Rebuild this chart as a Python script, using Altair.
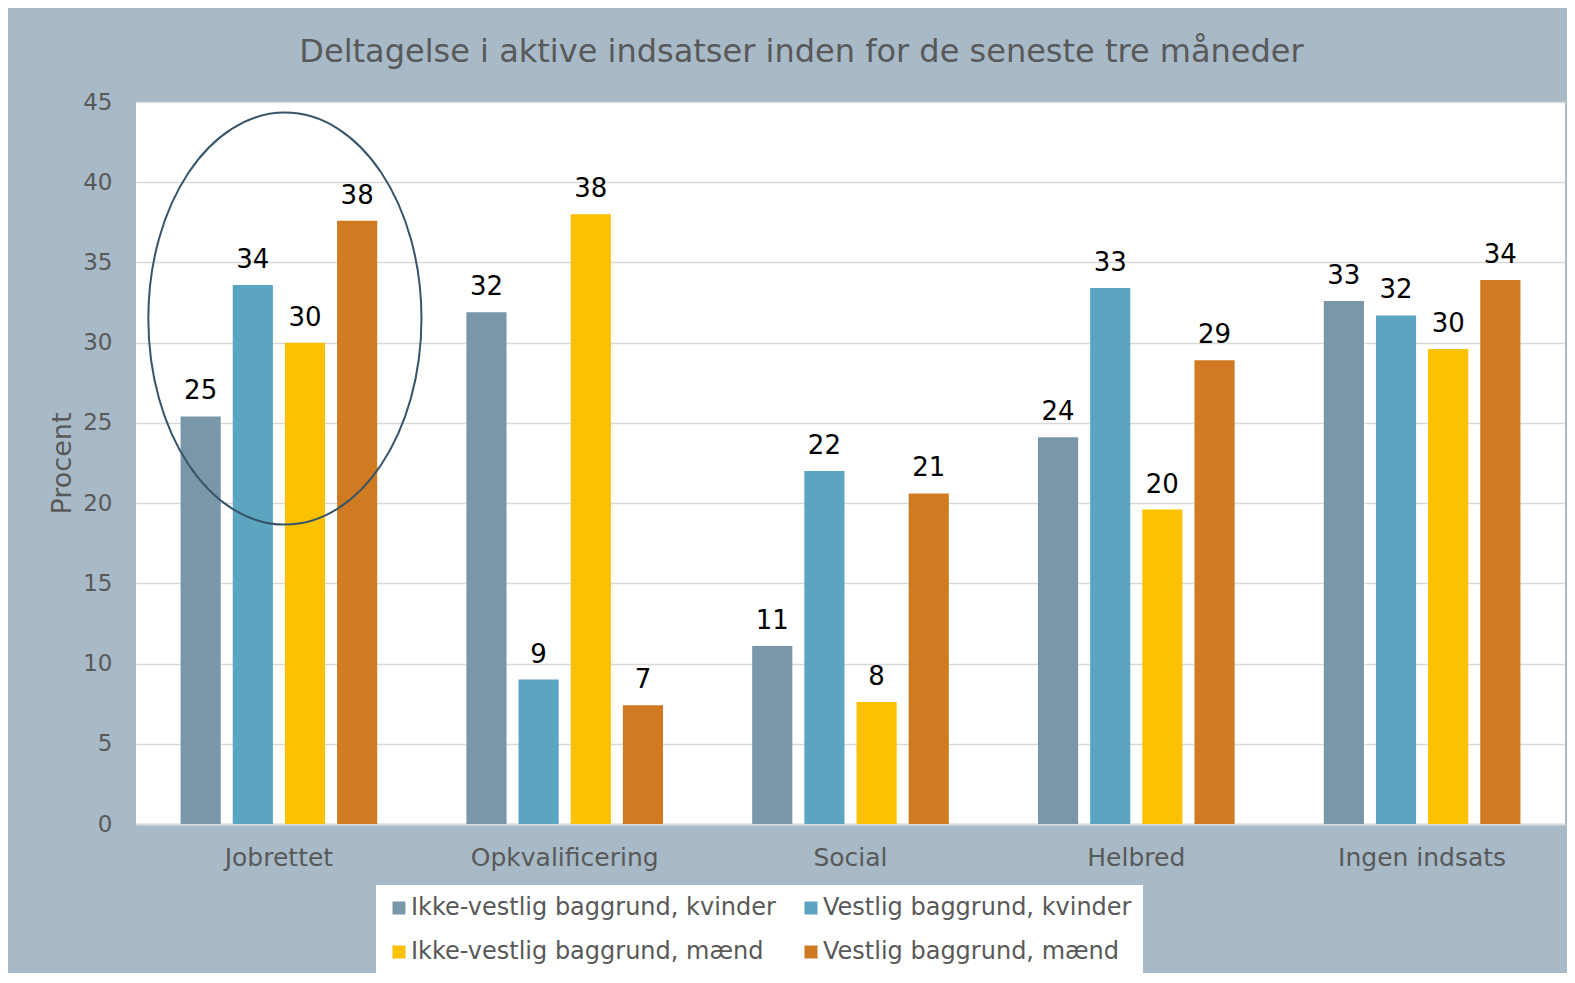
import altair as alt
import pandas as pd

categories = ["Jobrettet", "Opkvalificering", "Social", "Helbred", "Ingen indsats"]
series = [
    "Ikke-vestlig baggrund, kvinder",
    "Vestlig baggrund, kvinder",
    "Ikke-vestlig baggrund, mænd",
    "Vestlig baggrund, mænd",
]
ikke_vestlig_kvinder = [25.4, 31.9, 11.1, 24.1, 32.6]
vestlig_kvinder = [33.6, 9.0, 22.0, 33.4, 31.7]
ikke_vestlig_maend = [30.0, 38.0, 7.6, 19.6, 29.6]
vestlig_maend = [37.6, 7.4, 20.6, 28.9, 33.9]
colors = ["#7A96A9", "#5CA5C1", "#FCC101", "#D07B21"]

# highlighted group (annotation ellipse)
highlight_category = ["Jobrettet"]
highlight_center = [31.5]

rows = []
for s, vals in zip(series, [ikke_vestlig_kvinder, vestlig_kvinder, ikke_vestlig_maend, vestlig_maend]):
    for c, v in zip(categories, vals):
        rows.append({"Kategori": c, "Gruppe": s, "Procent": v})
df = pd.DataFrame(rows)
ell = pd.DataFrame({"Kategori": highlight_category, "Procent": highlight_center})

FONT = "DejaVu Sans"
GREY = "#595959"

x_enc = alt.X("Kategori:N", sort=categories,
              scale=alt.Scale(paddingInner=0.27, paddingOuter=0.135),
              axis=alt.Axis(title=None, labelAngle=0, labelFontSize=25, labelColor=GREY,
                            labelFont=FONT, labelPadding=21, labelLimit=400, ticks=False,
                            domain=True, domainColor="#D9D9D9", domainWidth=2, grid=False))
y_enc = alt.Y("Procent:Q", scale=alt.Scale(domain=[0, 45], nice=False),
              axis=alt.Axis(title="Procent", values=list(range(0, 46, 5)), labelFontSize=23,
                            labelColor=GREY, labelFont=FONT, labelPadding=24, ticks=False,
                            domain=False, grid=True, gridColor="#D9D9D9", gridWidth=1.5,
                            titleFontSize=27, titleColor=GREY, titleFont=FONT,
                            titleFontWeight="normal", titleX=-66, titleBaseline="alphabetic"))
xoff = alt.XOffset("Gruppe:N", sort=series,
                   scale=alt.Scale(paddingInner=0.23, paddingOuter=0.115))

bars = alt.Chart(df).mark_bar().encode(
    x=x_enc, y=y_enc, xOffset=xoff,
    color=alt.Color("Gruppe:N", scale=alt.Scale(domain=series, range=colors),
                    legend=alt.Legend(title=None, orient="none", legendX=240, legendY=783,
                                      direction="horizontal", columns=2, fillColor="white",
                                      padding=11, symbolType="square", symbolSize=169,
                                      symbolStrokeWidth=0, labelFontSize=24,
                                      labelColor=GREY, labelFont=FONT, columnPadding=23,
                                      rowPadding=20, labelOffset=0, labelLimit=500)),
)

labels = alt.Chart(df).mark_text(dy=-17, baseline="alphabetic", fontSize=26, font=FONT,
                                 color="black").encode(
    x=alt.X("Kategori:N", sort=categories),
    xOffset=xoff,
    y="Procent:Q",
    text=alt.Text("Procent:Q", format=".0f"),
)

ellipse_path = "M -0.663 0 A 0.663 1 0 1 0 0.663 0 A 0.663 1 0 1 0 -0.663 0 Z"
ellipse = alt.Chart(ell).mark_point(shape=ellipse_path, size=169744, filled=False,
                                    stroke="#385468", strokeWidth=2, opacity=1,
                                    xOffset=6).encode(
    x=alt.X("Kategori:N", sort=categories),
    y="Procent:Q",
)

chart = alt.layer(bars, labels, ellipse).properties(
    width=1429, height=722,
    background="#A8B9C7",
    padding={"left": 128, "top": 94, "right": 2, "bottom": 149},
    autosize=alt.AutoSizeParams(type="none"),
    title=alt.TitleParams("Deltagelse i aktive indsatser inden for de seneste tre måneder",
                          fontSize=32, color=GREY, font=FONT, fontWeight="normal",
                          anchor="middle", dx=-49, baseline="alphabetic", offset=-3),
).configure_view(fill="white", stroke=None)

chart.save("out.html", embed_options={"renderer": "svg", "actions": False})
